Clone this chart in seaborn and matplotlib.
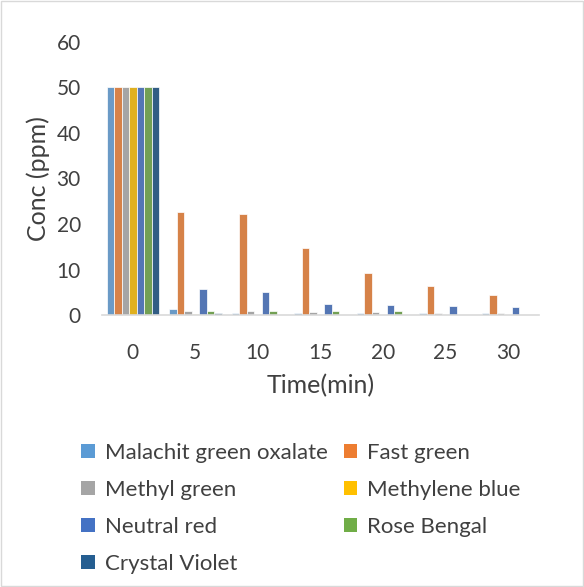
import matplotlib
matplotlib.use("Agg")
import matplotlib.pyplot as plt
import seaborn as sns
import pandas as pd
from matplotlib.patches import Rectangle, Patch

times = ["0", "5", "10", "15", "20", "25", "30"]
dyes = ["Malachit green oxalate", "Fast green", "Methyl green", "Methylene blue",
        "Neutral red", "Rose Bengal", "Crystal Violet"]
malachite = [50, 1.3, 0.5, 0.5, 0.5, 0.4, 0.4]
fast_green = [50, 22.7, 22.3, 14.8, 9.3, 6.3, 4.4]
methyl_green = [50, 1.0, 0.9, 0.8, 0.8, 0.4, 0.4]
methylene_blue = [50, 0.3, 0.1, 0.1, 0.1, 0.05, 0.05]
neutral_red = [50, 5.8, 5.2, 2.4, 2.3, 2.0, 1.9]
rose_bengal = [50, 0.9, 0.9, 0.9, 0.9, 0.05, 0.05]
crystal_violet = [50, 0.4, 0.1, 0.05, 0.05, 0.05, 0.05]
colors = ["#5B9BD5", "#ED7D31", "#A5A5A5", "#FFC000", "#4472C4", "#70AD47", "#255E91"]

series = [malachite, fast_green, methyl_green, methylene_blue, neutral_red, rose_bengal, crystal_violet]
rows = []
for d, vals in zip(dyes, series):
    for t, v in zip(times, vals):
        rows.append({"Time": t, "Dye": d, "Conc": v})
df = pd.DataFrame(rows)

sns.set_theme(style="white")
plt.rcParams["font.family"] = ["Lato", "DejaVu Sans"]

fig = plt.figure(figsize=(5.84, 5.87), dpi=100)
ax = fig.add_axes([0.174, 0.463, 0.749, 0.466])
sns.barplot(data=df, x="Time", y="Conc", hue="Dye", order=times, hue_order=dyes,
            palette=colors, width=0.84, edgecolor="white", linewidth=0.5,
            ax=ax, legend=False)

ax.set_ylim(0, 60)
ax.set_yticks(range(0, 61, 10))
ax.tick_params(axis="both", length=0, labelsize=15, colors="#404040")
ax.tick_params(axis="x", pad=20)
ax.tick_params(axis="y", pad=15)
ax.set_xlabel("Time(min)", fontsize=18, color="#404040", labelpad=8)
ax.set_ylabel("Conc (ppm)", fontsize=18, color="#404040", labelpad=5)
for s in ["top", "right", "left"]:
    ax.spines[s].set_visible(False)
ax.spines["bottom"].set_color("#D9D9D9")
ax.spines["bottom"].set_linewidth(1.2)

order = [0, 2, 4, 6, 1, 3, 5]
handles = [Patch(facecolor=colors[i], edgecolor="none") for i in order]
labels = [dyes[i] for i in order]
fig.legend(handles, labels, loc="upper left", bbox_to_anchor=(0.105, 0.279), ncol=2,
           frameon=False, fontsize=16, handlelength=0.6, handleheight=0.6,
           handletextpad=0.45, columnspacing=0.72, labelspacing=0.76,
           labelcolor="#404040")

fig.patches.append(Rectangle((0.002, 0.002), 0.996, 0.996, transform=fig.transFigure,
                             fill=False, edgecolor="#D9D9D9", linewidth=1))
fig.savefig("out.png", dpi=100)
